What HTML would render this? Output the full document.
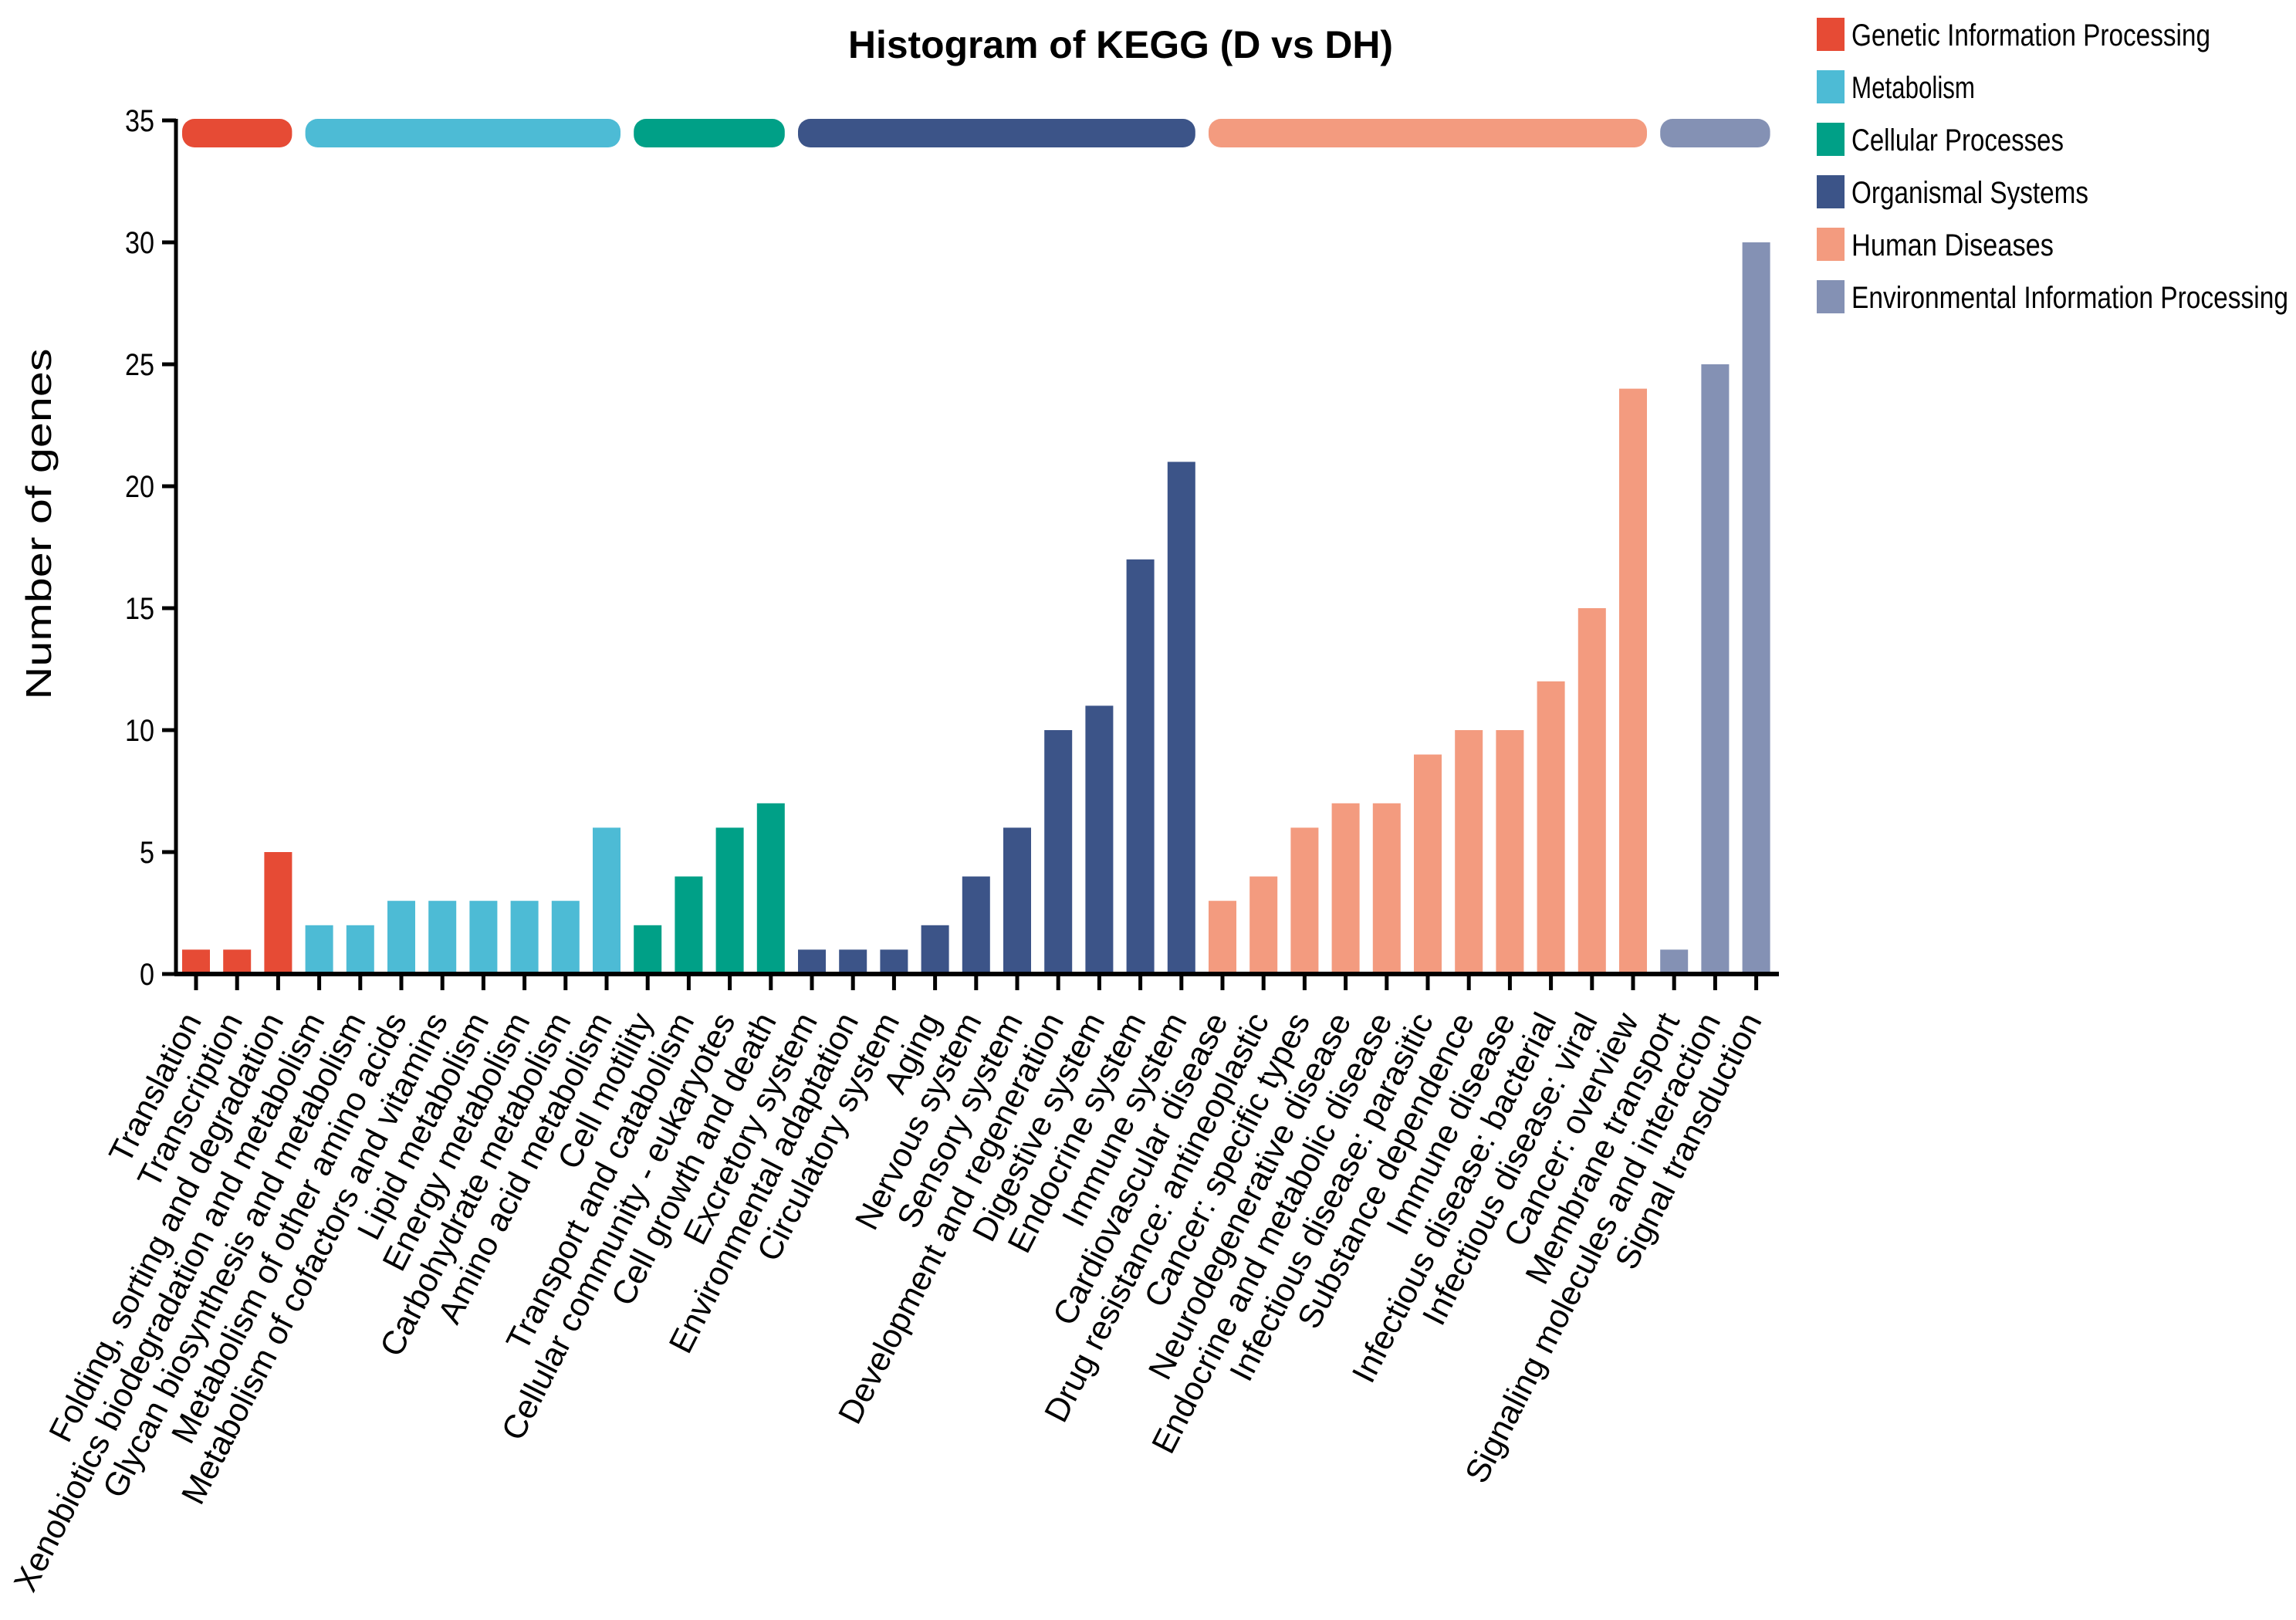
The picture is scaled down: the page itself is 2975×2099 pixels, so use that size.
<!DOCTYPE html>
<html><head><meta charset="utf-8"><style>
html,body{margin:0;padding:0;background:#fff;}
svg{display:block;font-family:"Liberation Sans",Arial,sans-serif;}
</style></head><body>
<svg id="chart" width="2975" height="2099" viewBox="0 0 2975 2099" xmlns="http://www.w3.org/2000/svg">
<text x="1452" y="75" text-anchor="middle" font-size="50" font-weight="bold" textLength="706" lengthAdjust="spacingAndGlyphs">Histogram of KEGG (D vs DH)</text>
<text transform="translate(66,679) rotate(-90)" text-anchor="middle" font-size="46" textLength="455" lengthAdjust="spacingAndGlyphs">Number of genes</text>
<g id="yaxis"></g>
<g id="bars"></g>
<g id="groups"></g>
<g id="xaxis"></g>
<g id="legend"></g>
</svg>
<script>
const categories = ["Translation","Transcription","Folding, sorting and degradation","Xenobiotics biodegradation and metabolism","Glycan biosynthesis and metabolism","Metabolism of other amino acids","Metabolism of cofactors and vitamins","Lipid metabolism","Energy metabolism","Carbohydrate metabolism","Amino acid metabolism","Cell motility","Transport and catabolism","Cellular community - eukaryotes","Cell growth and death","Excretory system","Environmental adaptation","Circulatory system","Aging","Nervous system","Sensory system","Development and regeneration","Digestive system","Endocrine system","Immune system","Cardiovascular disease","Drug resistance: antineoplastic","Cancer: specific types","Neurodegenerative disease","Endocrine and metabolic disease","Infectious disease: parasitic","Substance dependence","Immune disease","Infectious disease: bacterial","Infectious disease: viral","Cancer: overview","Membrane transport","Signaling molecules and interaction","Signal transduction"];
const values = [1,1,5,2,2,3,3,3,3,3,6,2,4,6,7,1,1,1,2,4,6,10,11,17,21,3,4,6,7,7,9,10,10,12,15,24,1,25,30];
const groupNames = ["Genetic Information Processing","Metabolism","Cellular Processes","Organismal Systems","Human Diseases","Environmental Information Processing"];
const groupSizes = [3,8,4,10,11,3];
const legendOrder = [0,1,2,3,4,5];
const yTicks = [0,5,10,15,20,25,30,35];
const colors = ["#E64B35","#4DBBD5","#00A087","#3C5488","#F39B7F","#8491B4"];

const NS="http://www.w3.org/2000/svg";
const y0=1262, yTop=156, yMax=35;
const yScale=v=>y0-(v/yMax)*(y0-yTop);
const x0=254, step=53.2;
const xScale=i=>x0+i*step;
const barW=36;
function mk(tag,attrs,parent){const e=document.createElementNS(NS,tag);for(const k in attrs)e.setAttribute(k,attrs[k]);parent.appendChild(e);return e;}

const yaxis=document.getElementById('yaxis');
const a1=mk('line',{x1:228,y1:yTop-2,x2:228,y2:y0+2,stroke:'#000','stroke-width':5},yaxis);


yTicks.forEach(t=>{
  const yy=yScale(t);
  const tk=mk('line',{x1:210,y1:yy,x2:228,y2:yy,stroke:'#000','stroke-width':5},yaxis);
  
  
  const tl=mk('text',{x:200,y:yy+14,'text-anchor':'end','font-size':40,textLength:String(t).length*19,lengthAdjust:'spacingAndGlyphs'},yaxis);
  tl.textContent=t;
  
  
});

const groupOf=[];groupSizes.forEach((n,g)=>{for(let k=0;k<n;k++)groupOf.push(g);});
const bars=document.getElementById('bars');
values.forEach((v,i)=>{
  const r=mk('rect',{x:xScale(i)-barW/2,y:yScale(v),width:barW,height:y0-yScale(v),fill:colors[groupOf[i]]},bars);
  
  
});

const groups=document.getElementById('groups');
let start=0;
groupSizes.forEach((n,g)=>{
  const xa=xScale(start)-18, xb=xScale(start+n-1)+18;
  const r=mk('rect',{x:xa,y:154,width:xb-xa,height:37,rx:16,ry:16,fill:colors[g]},groups);
  
  
  start+=n;
});

const xaxis=document.getElementById('xaxis');
const ax=mk('line',{x1:226,y1:y0,x2:2305,y2:y0,stroke:'#000','stroke-width':6},xaxis);


categories.forEach((c,i)=>{
  const cx=xScale(i);
  const tk=mk('line',{x1:cx,y1:y0,x2:cx,y2:1283,stroke:'#000','stroke-width':5},xaxis);
  
  
  const t=mk('text',{x:0,y:0,'text-anchor':'end','font-size':43,transform:`translate(${cx+8},1322) rotate(-63)`},xaxis);
  t.textContent=c;
  
  
});

const legend=document.getElementById('legend');
const legendW=[465,160,275,307,262,566];
legendOrder.forEach((g,k)=>{
  const yy=23+k*68;
  const s=mk('rect',{x:2354,y:yy,width:36,height:43,fill:colors[g]},legend);
  
  
  const t=mk('text',{x:2399,y:yy+36,'font-size':40,textLength:legendW[g],lengthAdjust:'spacingAndGlyphs'},legend);
  t.textContent=groupNames[g];
  
  
});
</script>
</body></html>
